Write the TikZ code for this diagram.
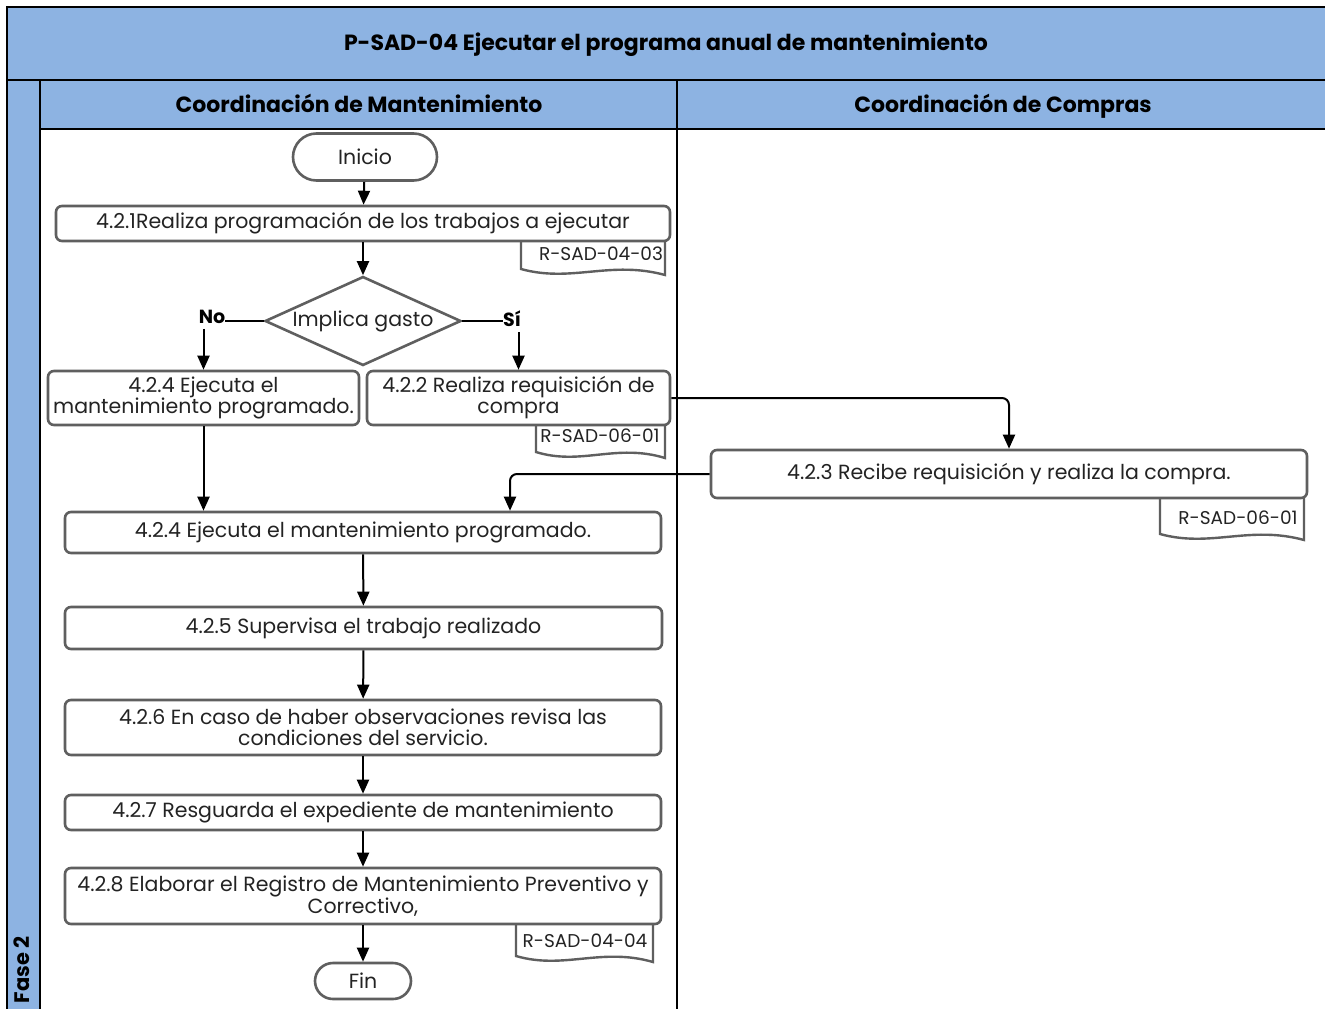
\documentclass[tikz,border=0pt]{standalone}
\usepackage{fontspec}
\setmainfont{Poppins}
\usetikzlibrary{arrows.meta,shapes.geometric,shapes.misc,calc}
\definecolor{hdr}{RGB}{141,179,226}
\definecolor{bgray}{RGB}{95,95,95}
\definecolor{txt}{RGB}{35,35,35}
\newcommand\boxfont{\fontsize{20.5}{21}\selectfont}
\newcommand\docfont{\fontsize{18.5}{21}\selectfont}
\newcommand\hdrfont{\bfseries\fontsize{22}{24}\selectfont}
\newcommand\docshp[4]{% x1 ytop x2 ybot
  \draw[docline] (#1,#2) -- (#1,#4) .. controls ({#1+0.35*(#3-#1)},{#4+14}) and ({#1+0.62*(#3-#1)},{#4-9}) .. (#3,{#4+6}) -- (#3,#2);}
\begin{document}
\begin{tikzpicture}[x=1pt,y=-1pt,
  frame/.style={draw=black,line width=2.2pt},
  proc/.style={draw=bgray,line width=2.6pt,rounded corners=6pt,fill=white,font=\boxfont,text=txt,align=center,inner sep=0pt},
  term/.style={draw=bgray,line width=2.6pt,rounded rectangle,fill=white,font=\boxfont,text=txt,inner sep=0pt},
  decis/.style={draw=bgray,line width=2.6pt,diamond,aspect=2.2,fill=white,font=\boxfont,text=txt,inner sep=0pt,minimum width=196pt,minimum height=89pt},
  docline/.style={draw=bgray,line width=2.4pt,fill=white},
  doctext/.style={font=\docfont,text=txt,inner sep=0pt},
  lbl/.style={font=\bfseries\fontsize{19}{20}\selectfont,inner sep=0pt},
  conn/.style={draw=black,line width=2pt},
  arr/.style={conn,-{Triangle[length=14pt,width=12pt]}}]
\useasboundingbox (0,0) rectangle (1325,1009);
\fill[white] (0,0) rectangle (1325,1009);
% headers
\fill[hdr] (7,7) rectangle (1330,80);
\fill[hdr] (7,80) rectangle (40,1012);
\fill[hdr] (40,80) rectangle (1330,129);
\draw[frame] (7,1012) -- (7,7) -- (1330,7);
\draw[frame] (7,80) -- (1330,80);
\draw[frame] (40,80) -- (40,1012);
\draw[frame] (40,129) -- (1330,129);
\draw[frame] (677,80) -- (677,1012);
\node[font=\hdrfont,anchor=base] (title) at (666,50) {P-SAD-04 Ejecutar el programa anual de mantenimiento};
\node[font=\hdrfont,anchor=base] (lane1) at (359,112) {Coordinación de Mantenimiento};
\node[font=\hdrfont,anchor=base] (lane2) at (1003,112) {Coordinación de Compras};
\node[font=\bfseries\fontsize{21}{22}\selectfont,rotate=90] (fase) at (22,970) {Fase 2};
% documents (drawn first, boxes overlap their tops)
\docshp{521}{236}{665}{269}
\docshp{536}{420}{665}{452}
\docshp{1160}{493}{1304}{534}
\docshp{516}{919}{653}{956}
\node[doctext] (d1) at (601,254) {R-SAD-04-03};
\node[doctext] (d2) at (600,436) {R-SAD-06-01};
\node[doctext] (d3) at (1238,518) {R-SAD-06-01};
\node[doctext] (d4) at (585,941) {R-SAD-04-04};
% nodes
\node[term,minimum width=144pt,minimum height=47pt] (ini) at (365,157) {Inicio};
\node[proc,minimum width=614pt,minimum height=35pt] (s421) at (363,223.5) {4.2.1Realiza programación de los trabajos a ejecutar};
\node[decis] (dec) at (363,321) {Implica gasto};
\node[lbl] (no) at (212,317) {No};
\node[lbl] (si) at (512,319) {Sí};
\node[proc,minimum width=311pt,minimum height=54pt] (s424a) at (203.5,398) {4.2.4 Ejecuta el\\mantenimiento programado.};
\node[proc,minimum width=303pt,minimum height=54pt] (s422) at (518.5,398) {4.2.2 Realiza requisición de\\compra};
\node[proc,minimum width=596pt,minimum height=48pt] (s423) at (1009,474) {4.2.3 Recibe requisición y realiza la compra.};
\node[proc,minimum width=596pt,minimum height=41pt] (s424) at (363,532.5) {4.2.4 Ejecuta el mantenimiento programado.};
\node[proc,minimum width=597pt,minimum height=42pt] (s425) at (363.5,628) {4.2.5 Supervisa el trabajo realizado};
\node[proc,minimum width=596pt,minimum height=55pt] (s426) at (363,727.5) {4.2.6 En caso de haber observaciones revisa las\\condiciones del servicio.};
\node[proc,minimum width=596pt,minimum height=35pt] (s427) at (363,812.5) {4.2.7 Resguarda el expediente de mantenimiento};
\node[proc,minimum width=596pt,minimum height=56pt] (s428) at (363,896) {4.2.8 Elaborar el Registro de Mantenimiento Preventivo y\\Correctivo,};
\node[term,minimum width=96pt,minimum height=36pt] (fin) at (363,981) {Fin};
% connectors
\draw[arr] (ini) -- (s421);
\draw[arr] (s421) -- (dec);
\draw[conn] (dec.west) -- (dec.west -| no.east);
\draw[conn] (dec.east) -- (dec.east -| si.west);
\draw[arr] (s424a.north |- no.south) ++(0,5) -- (s424a.north);
\draw[arr] (s422.north |- si.south) ++(0,5) -- (s422.north);
\draw[arr,rounded corners=7pt] (s422.east) -| (s423.north);
\draw[arr,rounded corners=7pt] (s423.west) -| ([xshift=147pt]s424.north);
\draw[arr] (s424a.south) -- (s424a.south |- s424.north);
\draw[arr] (s424) -- (s425);
\draw[arr] (s425) -- (s426);
\draw[arr] (s426) -- (s427);
\draw[arr] (s427) -- (s428);
\draw[arr] (s428) -- (fin);
\end{tikzpicture}
\end{document}
